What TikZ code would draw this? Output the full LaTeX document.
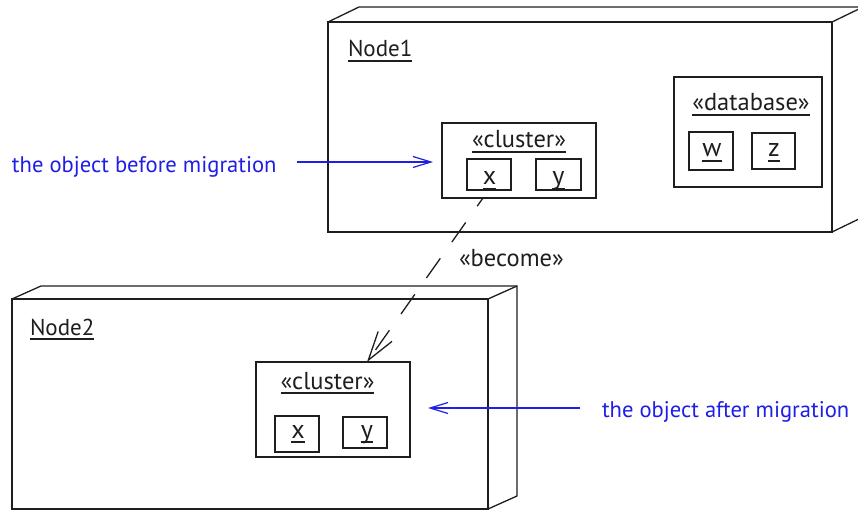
\documentclass[tikz,border=0pt]{standalone}
\usepackage{fontspec}
\setmainfont{PT Sans}
\usetikzlibrary{arrows.meta,calc}
\definecolor{annot}{RGB}{30,30,230}
\definecolor{ink}{RGB}{30,30,30}
\newcommand\umlul[1]{\setbox0\hbox{#1}\rlap{\vrule width\wd0 height -3.4pt depth 4.9pt}\box0}
\begin{document}
\begin{tikzpicture}[x=1pt,y=-1pt,
  every node/.style={inner sep=0pt, outer sep=0pt, text=ink},
  frame/.style={draw=ink, line width=1.3pt, line join=miter},
  box/.style={draw=ink, line width=1.3pt, rectangle},
  nodename/.style={font=\fontsize{23}{25}\selectfont, anchor=base west},
  lbl/.style={font=\fontsize{26}{28}\selectfont, anchor=base},
  stereo/.style={font=\fontsize{24.5}{26}\selectfont, anchor=base},
  note/.style={font=\fontsize{22.6}{25}\selectfont, text=annot, anchor=base west},
  noteline/.style={draw=annot, line width=1.2pt, -{Straight Barb[length=18pt,width=11pt]}},
  become/.style={draw=ink, line width=1.3pt, dash pattern=on 24pt off 20pt, dash phase=14pt, -{Straight Barb[length=29pt,width=17pt]}}
]
\useasboundingbox (0,0) rectangle (858,510);
\clip (0,0) rectangle (858,510);
% Node1
\node[box, minimum width=504pt, minimum height=210pt, anchor=north west] (n1) at (328,22) {};
\draw[frame] (n1.north west) -- ++(31,-15) -- ($(n1.north east)+(31,-15)$) -- ($(n1.south east)+(31,-15)$) -- (n1.south east);
\draw[frame] (n1.north east) -- ++(31,-15);
\node[nodename] (n1t) at (348,57) {\umlul{Node1}};
% Node2
\node[box, minimum width=476pt, minimum height=210pt, anchor=north west] (n2) at (12,299) {};
\draw[frame] (n2.north west) -- ++(29,-13) -- ($(n2.north east)+(29,-13)$) -- ($(n2.south east)+(29,-13)$) -- (n2.south east);
\draw[frame] (n2.north east) -- ++(29,-13);
\node[nodename] (n2t) at (30,335) {\umlul{Node2}};
% cluster in Node1
\node[box, minimum width=154pt, minimum height=75pt] (c1) at (519,160.5) {};
\node[stereo] (c1s) at (519,148) {\umlul{«cluster»}};
\node[box, minimum width=44pt, minimum height=31pt] (c1x) at (489,174.5) {};
\node[lbl] (c1xt) at (489.5,185) {\umlul{x}};
\node[box, minimum width=45pt, minimum height=31pt] (c1y) at (558.5,174.5) {};
\node[lbl] (c1yt) at (558.5,185) {\umlul{y}};
% database
\node[box, minimum width=148pt, minimum height=110pt] (db) at (748,132) {};
\node[stereo] (dbs) at (751,111) {\umlul{«database»}};
\node[box, minimum width=44pt, minimum height=38pt] (dbw) at (711,151) {};
\node[lbl] (dbwt) at (712,157) {\umlul{w}};
\node[box, minimum width=43pt, minimum height=36pt] (dbz) at (773.5,151) {};
\node[lbl] (dbzt) at (774,157) {\umlul{z}};
% cluster in Node2
\node[box, minimum width=154pt, minimum height=95pt] (c2) at (333,409.5) {};
\node[stereo] (c2s) at (327.5,389) {\umlul{«cluster»}};
\node[box, minimum width=44pt, minimum height=36pt] (c2x) at (297,434) {};
\node[lbl] (c2xt) at (298,438) {\umlul{x}};
\node[box, minimum width=44pt, minimum height=31pt] (c2y) at (365,432.5) {};
\node[lbl] (c2yt) at (367,438) {\umlul{y}};
% become
\draw[become] ([xshift=41pt]c1.south west) -- ([xshift=111pt]c2.north west);
\node[stereo, anchor=base west] (bec) at (459,267) {«become»};
% notes
\node[note] (bef) at (12,173) {the object before migration};
\node[note] (aft) at (602,417) {the object after migration};
\draw[noteline] ($(bef.east |- c1.west)+(20,1.5)$) -- ($(c1.west)+(-9,1.5)$);
\draw[noteline] ($(aft.west |- c2.east)+(-22,-1.5)$) -- ($(c2.east)+(18,-1.5)$);
\end{tikzpicture}
\end{document}
